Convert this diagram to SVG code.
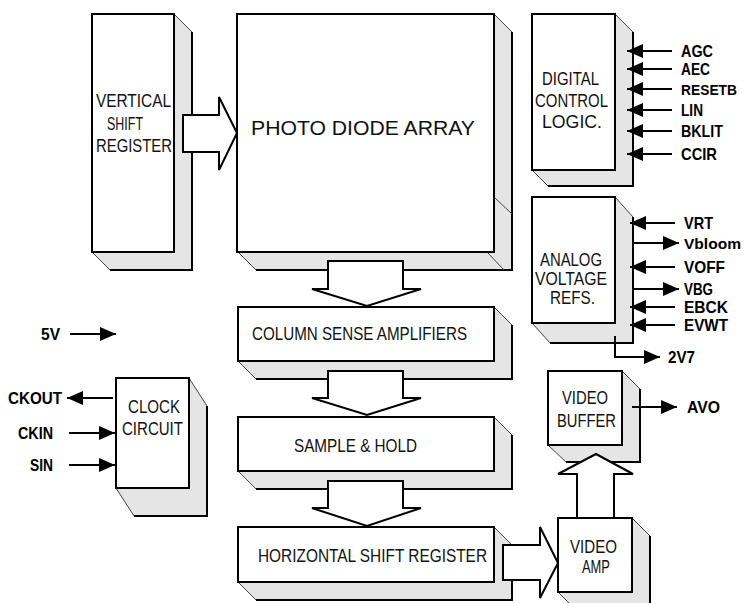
<svg xmlns="http://www.w3.org/2000/svg" width="744" height="603" viewBox="0 0 744 603">
<style>
.bg{fill:#fff}
.sh{fill:#e5e5e5;stroke:none}
.edge{fill:none;stroke:#000;stroke-width:2}
.diag{fill:none;stroke:#444;stroke-width:1}
.box{fill:#fff;stroke:#000;stroke-width:2}
.big{fill:#fff;stroke:#000;stroke-width:2;stroke-linejoin:miter}
.sig{fill:none;stroke:#000;stroke-width:2}
text{font-family:"Liberation Sans",Arial,Helvetica,sans-serif;fill:#111}
.lbl{font-size:19px}
.pin{font-size:17px;font-weight:bold;fill:#000}
.pin.sm{font-size:15.5px}
</style>
<defs>
<marker id="ah" markerUnits="userSpaceOnUse" markerWidth="16" markerHeight="14" refX="16" refY="7" orient="auto" viewBox="0 0 16 14">
<path d="M0,0 L16,7 L0,14 z" fill="#000"/>
</marker>
</defs>
<rect class="bg" x="0" y="0" width="744" height="603"/>

<g id="vertical-shift-register">
<polygon class="sh" points="174,14 192,32 192,270 110,270 92,252"/>
<polyline class="edge" points="192,32 192,270 110,270"/>
<line class="diag" x1="174" y1="14" x2="192" y2="32"/>
<line class="diag" x1="92" y1="252" x2="110" y2="270"/>
<rect class="box" x="92" y="14" width="82" height="238"/>
<text class="lbl" x="96" y="107" textLength="75" lengthAdjust="spacingAndGlyphs">VERTICAL</text>
<text class="lbl" x="107" y="130" textLength="36" lengthAdjust="spacingAndGlyphs">SHIFT</text>
<text class="lbl" x="96" y="152" textLength="76" lengthAdjust="spacingAndGlyphs">REGISTER</text>
</g>

<g id="photo-diode-array">
<polygon class="sh" points="494,14 512,32 512,270 256,270 238,252"/>
<polyline class="edge" points="512,32 512,270 256,270"/>
<line class="diag" x1="494" y1="14" x2="512" y2="32"/>
<line class="diag" x1="494" y1="197" x2="512" y2="214"/>
<line class="diag" x1="487" y1="252" x2="504" y2="270"/>
<line class="diag" x1="238" y1="252" x2="256" y2="270"/>
<rect class="box" x="237" y="14" width="257" height="238"/>
<text x="251" y="135" font-size="21" textLength="224" lengthAdjust="spacingAndGlyphs">PHOTO DIODE ARRAY</text>
</g>

<g id="column-sense-amplifiers">
<polygon class="sh" points="494,307 512,325 512,379 256,379 238,361"/>
<polyline class="edge" points="512,325 512,379 256,379"/>
<line class="diag" x1="494" y1="307" x2="512" y2="325"/>
<line class="diag" x1="238" y1="361" x2="256" y2="379"/>
<rect class="box" x="238" y="307" width="256" height="54"/>
<text class="lbl" x="252" y="340" textLength="215" lengthAdjust="spacingAndGlyphs">COLUMN SENSE AMPLIFIERS</text>
</g>

<g id="sample-hold">
<polygon class="sh" points="494,417 512,435 512,489 256,489 238,471"/>
<polyline class="edge" points="512,435 512,489 256,489"/>
<line class="diag" x1="494" y1="417" x2="512" y2="435"/>
<line class="diag" x1="238" y1="471" x2="256" y2="489"/>
<rect class="box" x="238" y="417" width="256" height="54"/>
<text class="lbl" x="294" y="452" textLength="123" lengthAdjust="spacingAndGlyphs">SAMPLE &amp; HOLD</text>
</g>

<g id="horizontal-shift-register">
<polygon class="sh" points="494,527 512,545 512,600 256,600 238,582"/>
<polyline class="edge" points="512,545 512,600 256,600"/>
<line class="diag" x1="494" y1="527" x2="512" y2="545"/>
<line class="diag" x1="238" y1="582" x2="256" y2="600"/>
<rect class="box" x="238" y="527" width="256" height="55"/>
<text class="lbl" x="258" y="562" textLength="229" lengthAdjust="spacingAndGlyphs">HORIZONTAL SHIFT REGISTER</text>
</g>

<g id="digital-control-logic">
<polygon class="sh" points="615,14 633,32 633,186 548,186 532,170"/>
<polyline class="edge" points="633,32 633,186 548,186"/>
<line class="diag" x1="615" y1="14" x2="633" y2="32"/>
<line class="diag" x1="532" y1="170" x2="548" y2="186"/>
<rect class="box" x="532" y="14" width="83" height="156"/>
<text class="lbl" x="542" y="85" textLength="57" lengthAdjust="spacingAndGlyphs">DIGITAL</text>
<text class="lbl" x="535" y="107" textLength="73" lengthAdjust="spacingAndGlyphs">CONTROL</text>
<text class="lbl" x="542" y="128" textLength="60" lengthAdjust="spacingAndGlyphs">LOGIC.</text>
</g>

<g id="analog-voltage-refs">
<polygon class="sh" points="615,197 633,217 633,343 550,343 532,323"/>
<polyline class="edge" points="633,217 633,343 550,343"/>
<line class="diag" x1="615" y1="197" x2="633" y2="217"/>
<line class="diag" x1="532" y1="323" x2="550" y2="343"/>
<rect class="box" x="532" y="197" width="83" height="126"/>
<text class="lbl" x="540" y="266" textLength="62" lengthAdjust="spacingAndGlyphs">ANALOG</text>
<text class="lbl" x="535" y="285" textLength="72" lengthAdjust="spacingAndGlyphs">VOLTAGE</text>
<text class="lbl" x="550" y="304" textLength="45" lengthAdjust="spacingAndGlyphs">REFS.</text>
</g>

<g id="clock-circuit">
<polygon class="sh" points="189,378 207,406 207,516 134,516 116,488"/>
<polyline class="edge" points="207,406 207,516 134,516"/>
<line class="diag" x1="189" y1="378" x2="207" y2="406"/>
<line class="diag" x1="116" y1="488" x2="134" y2="516"/>
<rect class="box" x="116" y="378" width="73" height="110"/>
<text class="lbl" x="128" y="413" textLength="52" lengthAdjust="spacingAndGlyphs">CLOCK</text>
<text class="lbl" x="122" y="435" textLength="61" lengthAdjust="spacingAndGlyphs">CIRCUIT</text>
</g>

<g id="video-buffer">
<polygon class="sh" points="622,371 640,389 640,462 566,462 548,445"/>
<polyline class="edge" points="640,389 640,462 566,462"/>
<line class="diag" x1="622" y1="371" x2="640" y2="389"/>
<line class="diag" x1="548" y1="445" x2="566" y2="462"/>
<rect class="box" x="548" y="371" width="74" height="74"/>
<text class="lbl" x="562" y="404" textLength="46" lengthAdjust="spacingAndGlyphs">VIDEO</text>
<text class="lbl" x="557" y="427" textLength="59" lengthAdjust="spacingAndGlyphs">BUFFER</text>
</g>

<g id="video-amp">
<polygon class="sh" points="632,518 650,536 650,610 576,610 558,592"/>
<polyline class="edge" points="650,536 650,610"/>
<line class="diag" x1="632" y1="518" x2="650" y2="536"/>
<line class="diag" x1="558" y1="592" x2="576" y2="610"/>
<rect class="box" x="558" y="518" width="74" height="74"/>
<text class="lbl" x="570" y="553" textLength="47" lengthAdjust="spacingAndGlyphs">VIDEO</text>
<text class="lbl" x="582" y="573" textLength="28" lengthAdjust="spacingAndGlyphs">AMP</text>
</g>

<g id="connectors">
<polygon class="big" points="183,115 219,115 219,97 237,133 219,170 219,152 183,152"/>
<polygon class="big" points="328,261 403,261 403,289 421,289 367,306 312,289 328,289"/>
<polygon class="big" points="328,371 403,371 403,398 421,398 367,415 312,398 328,398"/>
<polygon class="big" points="328,481 403,481 403,508 421,508 367,526 312,508 328,508"/>
<polygon class="big" points="503,545 540,545 540,527 558,563 540,598 540,580 503,580"/>
<polygon class="big" points="577,518 577,474 558,474 596,454 633,474 614,474 614,518"/>

<line class="sig" x1="672" y1="51" x2="627" y2="51" marker-end="url(#ah)"/>
<line class="sig" x1="672" y1="69" x2="627" y2="69" marker-end="url(#ah)"/>
<line class="sig" x1="672" y1="89" x2="627" y2="89" marker-end="url(#ah)"/>
<line class="sig" x1="672" y1="110" x2="627" y2="110" marker-end="url(#ah)"/>
<line class="sig" x1="672" y1="131" x2="627" y2="131" marker-end="url(#ah)"/>
<line class="sig" x1="672" y1="154" x2="627" y2="154" marker-end="url(#ah)"/>

<line class="sig" x1="675" y1="223" x2="630" y2="223" marker-end="url(#ah)"/>
<line class="sig" x1="633" y1="243" x2="679" y2="243" marker-end="url(#ah)"/>
<line class="sig" x1="675" y1="267" x2="630" y2="267" marker-end="url(#ah)"/>
<line class="sig" x1="633" y1="289" x2="679" y2="289" marker-end="url(#ah)"/>
<line class="sig" x1="675" y1="307" x2="630" y2="307" marker-end="url(#ah)"/>
<line class="sig" x1="675" y1="325" x2="630" y2="325" marker-end="url(#ah)"/>

<polyline class="sig" points="615,336 615,357 660,357" marker-end="url(#ah)"/>
<line class="sig" x1="632" y1="407" x2="677" y2="407" marker-end="url(#ah)"/>

<line class="sig" x1="70" y1="334" x2="116" y2="334" marker-end="url(#ah)"/>
<line class="sig" x1="113" y1="398" x2="67" y2="398" marker-end="url(#ah)"/>
<line class="sig" x1="69" y1="433" x2="115" y2="433" marker-end="url(#ah)"/>
<line class="sig" x1="69" y1="465" x2="115" y2="465" marker-end="url(#ah)"/>
</g>

<g id="pin-labels">
<text class="pin" x="681" y="57" textLength="32" lengthAdjust="spacingAndGlyphs">AGC</text>
<text class="pin" x="681" y="75" textLength="29" lengthAdjust="spacingAndGlyphs">AEC</text>
<text class="pin sm" x="681" y="95" textLength="56" lengthAdjust="spacingAndGlyphs">RESETB</text>
<text class="pin" x="681" y="116" textLength="22" lengthAdjust="spacingAndGlyphs">LIN</text>
<text class="pin" x="681" y="137" textLength="42" lengthAdjust="spacingAndGlyphs">BKLIT</text>
<text class="pin" x="681" y="160" textLength="36" lengthAdjust="spacingAndGlyphs">CCIR</text>
<text class="pin" x="684" y="229" textLength="29" lengthAdjust="spacingAndGlyphs">VRT</text>
<text class="pin sm" x="684" y="249" textLength="57" lengthAdjust="spacingAndGlyphs">Vbloom</text>
<text class="pin" x="684" y="273" textLength="41" lengthAdjust="spacingAndGlyphs">VOFF</text>
<text class="pin" x="684" y="295" textLength="29" lengthAdjust="spacingAndGlyphs">VBG</text>
<text class="pin" x="684" y="313" textLength="44" lengthAdjust="spacingAndGlyphs">EBCK</text>
<text class="pin" x="684" y="331" textLength="44" lengthAdjust="spacingAndGlyphs">EVWT</text>
<text class="pin" x="668" y="363" textLength="27" lengthAdjust="spacingAndGlyphs">2V7</text>
<text class="pin" x="687" y="413" textLength="33" lengthAdjust="spacingAndGlyphs">AVO</text>
<text class="pin" x="41" y="340" textLength="19" lengthAdjust="spacingAndGlyphs">5V</text>
<text class="pin" x="8" y="404" textLength="54" lengthAdjust="spacingAndGlyphs">CKOUT</text>
<text class="pin" x="18" y="439" textLength="35" lengthAdjust="spacingAndGlyphs">CKIN</text>
<text class="pin" x="30" y="471" textLength="23" lengthAdjust="spacingAndGlyphs">SIN</text>
</g>
</svg>
